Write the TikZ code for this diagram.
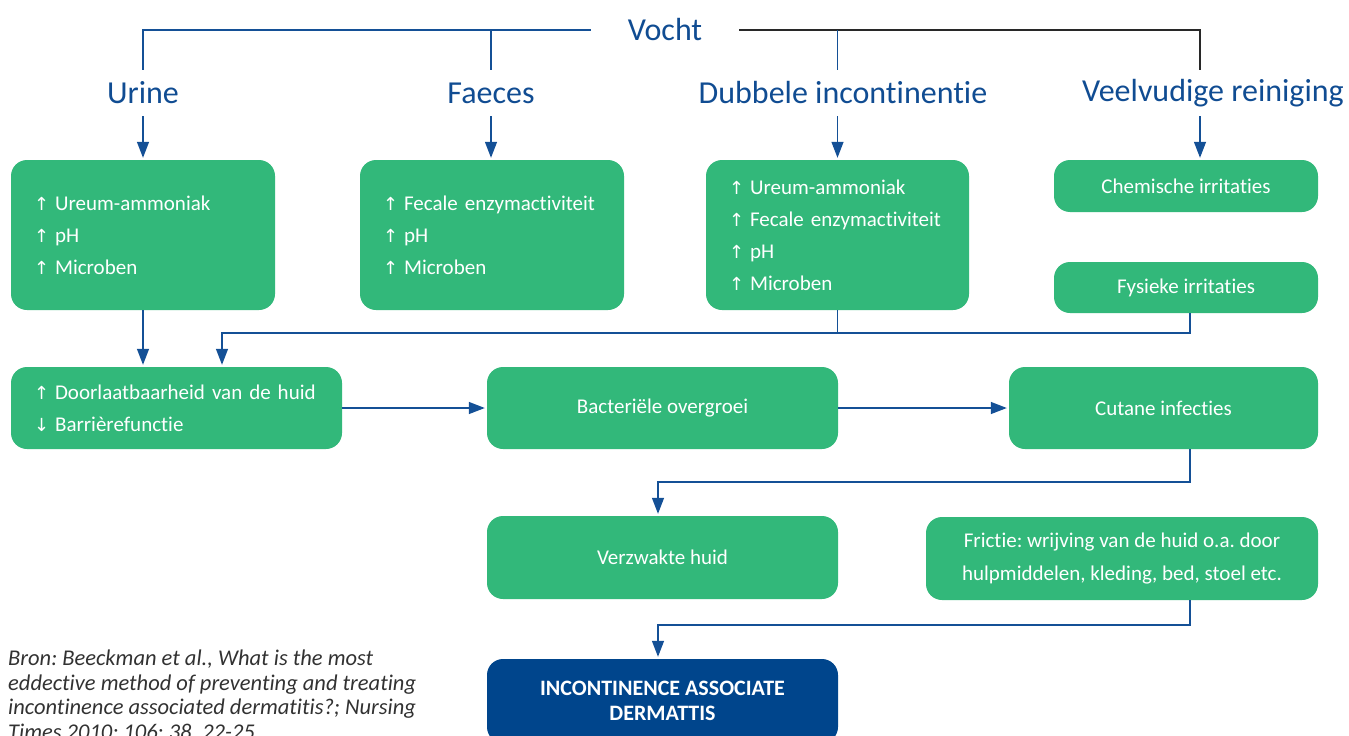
\documentclass[tikz,border=0pt]{standalone}
\usepackage{fontspec}
\setmainfont{Carlito}[Ligatures={NoCommon,NoContextual},RawFeature={-liga;-clig;-dlig;-calt}]
\newfontfamily\arrowfont{DejaVu Sans}
\usetikzlibrary{arrows.meta}
\definecolor{boxgreen}{RGB}{50,184,122}
\definecolor{iadblue}{RGB}{0,69,140}
\definecolor{labelblue}{RGB}{16,76,146}
\definecolor{lineblue}{RGB}{20,80,150}
\definecolor{linegray}{RGB}{40,40,40}
\definecolor{citegray}{RGB}{50,50,50}
\newcommand{\arup}{{\arrowfont\fontsize{18}{18}\selectfont ↑}\hspace{6pt}}
\newcommand{\ardown}{{\arrowfont\fontsize{18}{18}\selectfont ↓}\hspace{6pt}}
\frenchspacing

\begin{document}
\begin{tikzpicture}[x=1pt,y=-1pt]
    \tikzstyle{box}=[fill=boxgreen,rounded corners=16pt,text=white,inner sep=0pt,font=\fontsize{21}{32}\selectfont]
    \tikzstyle{list}=[box,align=left,inner xsep=23pt]
    \tikzstyle{cause}=[text=labelblue,font=\fontsize{32}{32}\selectfont,minimum height=46pt,inner sep=0pt]
    \tikzstyle{link}=[draw=lineblue,line width=1.3pt]
    \tikzstyle{arrow}=[link,-{Triangle[length=16pt,width=12pt]},shorten >=2pt]
    \useasboundingbox (0,0) rectangle (1349,736);
    % oorzaken
    \node[cause,inner xsep=37pt] (l_0) at (665,30) {Vocht};
    \node[cause] (l_1) at (143,93) {Urine};
    \node[cause] (l_2) at (491,93) {Faeces};
    \node[cause] (l_3) at (843,93) {Dubbele incontinentie};
    \node[cause] (l_4) at (1213,93) {Veelvudige reiniging};
    % blokken
    \node[list,text width=218pt,minimum height=150pt] (b_1) at (143,235) {\arup Ureum-ammoniak\\ \arup pH\\ \arup Microben};
    \node[list,text width=218pt,minimum height=150pt] (b_2) at (492,235) {\arup Fecale enzymactiviteit\\ \arup pH\\ \arup Microben};
    \node[list,text width=217pt,minimum height=150pt] (b_3) at (837.5,235) {\arup Ureum-ammoniak\\ \arup Fecale enzymactiviteit\\ \arup pH\\ \arup Microben};
    \node[box,minimum width=264pt,minimum height=52pt] (b_4) at (1186,186) {Chemische irritaties};
    \node[box,minimum width=264pt,minimum height=51pt] (b_5) at (1186,287.5) {Fysieke irritaties};
    \node[list,text width=285pt,minimum height=82pt] (b_6) at (176.5,408) {\arup Doorlaatbaarheid van de huid\\ \ardown Barrièrefunctie};
    \node[box,minimum width=351pt,minimum height=82pt] (b_7) at (662.5,408) {Bacteriële overgroei};
    \node[box,minimum width=309pt,minimum height=82pt] (b_8) at (1163.5,408) {Cutane infecties};
    \node[box,minimum width=351pt,minimum height=83pt] (b_9) at (662.5,557.5) {Verzwakte huid};
    \node[box,minimum width=392pt,minimum height=83pt,align=center,font=\fontsize{21}{33}\selectfont] (b_10) at (1122,558.5) {Frictie: wrijving van de huid o.a. door\\ hulpmiddelen, kleding, bed, stoel etc.};
    \node[box,fill=iadblue,minimum width=351pt,minimum height=84pt,align=center,font=\bfseries\fontsize{22}{25}\selectfont] (b_11) at (662.5,701) {INCONTINENCE ASSOCIATE\\ DERMATTIS};
    \node[anchor=north west,align=left,inner sep=0pt,text=citegray,font=\itshape\fontsize{22.5}{24.5}\selectfont] (src) at (8,650) {Bron: Beeckman et al., What is the most\\ eddective method of preventing and treating\\ incontinence associated dermatitis?; Nursing\\ Times 2010; 106: 38, 22-25};
    % knikpunten
    \coordinate (v_r) at (1200,30);
    \coordinate (j_1) at (1190,333);
    \coordinate (j_2) at (222,333);
    \coordinate (j_3) at (1190,482);
    \coordinate (j_4) at (658,482);
    \coordinate (j_5) at (1190,625);
    \coordinate (j_6) at (658,625);
    % verbindingen
    \draw[link] (l_0.west) -- (l_0.west -| l_1) -- (l_1.north);
    \draw[link] (l_0.west -| l_2) -- (l_2.north);
    \draw[link,draw=linegray] (l_0.east) -- (v_r) -- (l_4.north -| v_r);
    \draw[link] (l_0.east -| b_3) -- (l_3.north -| b_3);
    \draw[arrow] (l_1.south) -- (b_1.north);
    \draw[arrow] (l_2.south) -- (l_2.south |- b_2.north);
    \draw[arrow] (l_3.south -| b_3) -- (b_3.north);
    \draw[arrow] (l_4.south -| v_r) -- (b_4.north -| v_r);
    \draw[arrow] (b_1.south) -- (b_1.south |- b_6.north);
    \draw[link] (b_3.south) -- (b_3.south |- j_1);
    \draw[arrow] (b_5.south -| j_1) -- (j_1) -- (j_2) -- (b_6.north -| j_2);
    \draw[arrow] (b_6.east) -- (b_7.west);
    \draw[arrow] (b_7.east) -- (b_8.west);
    \draw[arrow] (b_8.south -| j_3) -- (j_3) -- (j_4) -- (b_9.north -| j_4);
    \draw[arrow] (b_10.south -| j_5) -- (j_5) -- (j_6) -- (b_11.north -| j_6);
\end{tikzpicture}
\end{document}
